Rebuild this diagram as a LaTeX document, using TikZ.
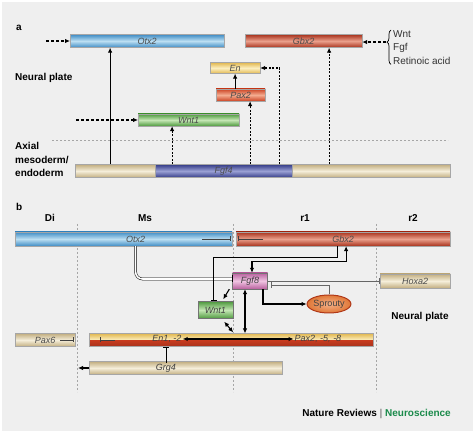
\documentclass[tikz,border=0pt]{standalone}
\usepackage{fontspec}
\setmainfont{Liberation Sans}
\usetikzlibrary{arrows.meta, positioning, shapes.geometric, decorations.pathreplacing, calc}
\definecolor{bggrey}{HTML}{EFEFEF}
\definecolor{otxdark}{HTML}{3F8CC4}
\definecolor{otxlight}{HTML}{BCDFF2}
\definecolor{gbxdark}{HTML}{A8321C}
\definecolor{gbxlight}{HTML}{EAA08C}
\definecolor{endark}{HTML}{E2B850}
\definecolor{enlight}{HTML}{FCEFC0}
\definecolor{paxdark}{HTML}{CC4424}
\definecolor{paxlight}{HTML}{F4AC90}
\definecolor{wntdark}{HTML}{4E9A3E}
\definecolor{wntlight}{HTML}{C4E6B4}
\definecolor{fgfdark}{HTML}{343C88}
\definecolor{fgflight}{HTML}{9AA0D4}
\definecolor{beigedark}{HTML}{C2AE80}
\definecolor{beigelight}{HTML}{F5EEDA}
\definecolor{pinkdark}{HTML}{B8609E}
\definecolor{pinklight}{HTML}{F0C4E2}
\definecolor{sproutydark}{HTML}{E07838}
\definecolor{sproutylight}{HTML}{F4B088}
\definecolor{sproutyedge}{HTML}{B03818}
\definecolor{redhalf}{HTML}{C43A1E}
\definecolor{natgreen}{HTML}{1A8A4A}
\tikzstyle{bar} = [rectangle, minimum height=13pt, inner sep=0pt, anchor=west, font=\small\itshape, text=black!70, draw=black!35, very thin]
\tikzstyle{otxbar} = [bar, top color=otxdark, bottom color=otxdark, middle color=otxlight]
\tikzstyle{gbxbar} = [bar, top color=gbxdark, bottom color=gbxdark, middle color=gbxlight]
\tikzstyle{enbar} = [bar, top color=endark, bottom color=endark, middle color=enlight]
\tikzstyle{paxbar} = [bar, top color=paxdark, bottom color=paxdark, middle color=paxlight]
\tikzstyle{wntbar} = [bar, top color=wntdark, bottom color=wntdark, middle color=wntlight]
\tikzstyle{fgfbar} = [bar, top color=fgfdark, bottom color=fgfdark, middle color=fgflight]
\tikzstyle{beigebar} = [bar, top color=beigedark, bottom color=beigedark, middle color=beigelight]
\tikzstyle{box} = [rectangle, minimum width=35pt, minimum height=16pt, inner sep=0pt, font=\small\itshape, text=black!75, draw=black!55]
\tikzstyle{region} = [font=\fontsize{10}{13.5}\selectfont\bfseries, inner sep=0pt]
\tikzstyle{path} = [-{Latex[length=5pt, width=4.5pt]}, line width=1.1pt]
\tikzstyle{both} = [{Latex[length=5pt, width=4.5pt]}-{Latex[length=5pt, width=4.5pt]}, line width=1.1pt]
\tikzstyle{dashpath} = [path, dash pattern=on 3pt off 2pt]
\tikzstyle{dotpath} = [path, dash pattern=on 2pt off 1.5pt]
\tikzstyle{inhibit} = [-{Bar[width=6pt]}, line width=0.9pt]
\tikzstyle{inner} = [-{Bar[width=5pt]}, line width=0.6pt, black!75]
\tikzstyle{guide} = [black!35, line width=0.8pt, dash pattern=on 2pt off 2pt]

\begin{document}
\begin{tikzpicture}[x=1pt, y=-1pt]
    \useasboundingbox (0,0) rectangle (475,433);
    \fill[white] (0,0) rectangle (475,433);
    \fill[bggrey] (2,2) rectangle (473,431);

    % Panel a: labels.
    \node (panela) [region, anchor=west] at (16,28) {a};
    \node (neurala) [region, anchor=west] at (15,78) {Neural plate};
    \node (axial) [region, anchor=west, align=left] at (15,159.5) {Axial\\mesoderm/\\endoderm};
    \draw [guide] (52,140) -- (448,140);

    % Panel a: genes.
    \node (otxA) [otxbar, minimum width=154pt] at (70,41) {Otx2};
    \node (gbxA) [gbxbar, minimum width=117pt] at (245,41) {Gbx2};
    \node (enA) [enbar, minimum width=50pt, minimum height=11pt] at (210,68) {En};
    \node (paxA) [paxbar, minimum width=49pt, minimum height=12pt] at (216,95) {Pax2};
    \node (wntA) [wntbar, minimum width=101pt, minimum height=12pt] at (138,120) {Wnt1};
    \node (mesoL) [beigebar, minimum width=80pt] at (75,171) {};
    \node (fgf4) [fgfbar, minimum width=137pt] at (155,171) {Fgf4};
    \node (mesoR) [beigebar, minimum width=158pt] at (292,171) {};
    \node (signals) [anchor=north west, align=left, inner sep=0pt, font=\fontsize{10}{13.5}\selectfont, text=black!80] at (393,30) {Wnt\\Fgf\\Retinoic acid};

    % Panel a: arrows.
    \coordinate (otxin) at ([xshift=-24pt]otxA.west);
    \coordinate (wntin) at ([xshift=-62pt]wntA.west);
    \coordinate (s1) at ([xshift=-5pt]mesoL.north);
    \coordinate (s2) at ([xshift=-51.5pt]fgf4.north);
    \coordinate (s3) at ([xshift=26.5pt]fgf4.north);
    \coordinate (s4) at ([xshift=55.5pt]fgf4.north);
    \coordinate (s5) at ([xshift=-42pt]mesoR.north);
    \coordinate (bracetip) at ($(signals.south west)!0.65!(signals.north west) + (-7pt,0)$);
    \draw [dashpath] (otxin) -- (otxA.west);
    \draw [dashpath] (wntin) -- (wntA.west);
    \draw [path] (s1) -- (s1 |- otxA.south);
    \draw [dotpath] (s2) -- (s2 |- wntA.south);
    \draw [dotpath] (s3) -- (s3 |- paxA.south);
    \draw [dotpath] (s4) |- (enA.east);
    \draw [dotpath] (s5) -- (s5 |- gbxA.south);
    \draw [path] (paxA.north -| enA.south) -- (enA.south);
    \draw [decorate, decoration={brace, amplitude=4pt, aspect=0.65}, line width=0.7pt] ([xshift=-2pt]signals.south west) -- ([xshift=-2pt]signals.north west);
    \draw [dashpath] (bracetip) -- (bracetip -| gbxA.east);

    % Panel b: labels.
    \node (panelb) [region, anchor=west] at (16,207) {b};
    \foreach \n/\x in {Di/50, Ms/145, r1/305, r2/413} {
        \node (col\n) [region] at (\x,218) {\n};
    }
    \foreach \x in {77, 233, 376} {
        \draw [guide] (\x,224) -- (\x,392);
    }
    \node (neuralb) [region] at (420,317) {Neural plate};

    % Panel b: genes.
    \node (otxB) [otxbar, minimum width=217pt, minimum height=14pt, label={[xshift=12pt, font=\small\itshape, text=black!70]center:Otx2}] at (15,239) {};
    \node (gbxB) [gbxbar, minimum width=214pt, minimum height=14pt] at (236,239) {Gbx2};
    \node (hoxa2) [beigebar, minimum width=70pt, minimum height=14pt] at (380,281) {Hoxa2};
    \node (pax6) [beigebar, minimum width=60pt] at (15,340) {Pax6};
    \node (enpax) [bar, minimum width=284pt, path picture={
        \shade [top color=endark, bottom color=endark, middle color=enlight] (path picture bounding box.north west) rectangle ([yshift=-1pt]path picture bounding box.east);
        \shade [top color=redhalf, bottom color=gbxdark] ([yshift=-1pt]path picture bounding box.west) rectangle (path picture bounding box.south east);}] at (89,340) {};
    \node (enlab) [font=\small\itshape, text=black!75, inner sep=1pt] at (167,339) {En1, -2};
    \node (paxlab) [font=\small\itshape, text=black!75, inner sep=1pt] at (318,339) {Pax2, -5, -8};
    \node (grg4) [beigebar, minimum width=193pt] at (89,368) {};
    \node (grglab) [font=\small\itshape, text=black!75, inner sep=1pt] at (166,368) {Grg4};
    \node (fgf8) [box, top color=pinkdark, bottom color=pinkdark, middle color=pinklight] at (250,281) {Fgf8};
    \node (wntB) [box, minimum height=17pt, top color=wntdark, bottom color=wntdark, middle color=wntlight] at (215.5,310) {Wnt1};
    \node (sprouty) [ellipse, minimum width=42pt, minimum height=18pt, inner sep=0pt, draw=sproutyedge, line width=1pt, inner color=sproutylight, outer color=sproutydark, font=\small, text=black!75] at (329,304) {Sprouty};

    % Panel b: self limits inside the bars.
    \draw [inner] ([xshift=-30pt]otxB.east) -- ([xshift=-1.5pt]otxB.east);
    \draw [inner] ([xshift=27pt]gbxB.west) -- ([xshift=2pt]gbxB.west);
    \draw [inner] ([xshift=-15pt]pax6.east) -- ([xshift=-2pt]pax6.east);
    \draw [inner] ([xshift=26pt]enpax.west) -- ([xshift=11pt]enpax.west);

    % Panel b: arrows.
    \coordinate (wen) at (enpax.north -| wntB.east);
    \coordinate (fdown) at ([xshift=-5pt]fgf8.south);
    \coordinate (grgend) at ([xshift=-11pt]grg4.west);
    \draw [double, double distance=1.6pt, line width=0.5pt, rounded corners=7pt, -{Bar[width=7pt]}] ([xshift=12pt]otxB.south) |- ([yshift=2pt]fgf8.west);
    \draw [inhibit] ([xshift=-6pt]gbxB.south) -- ++(0,11) -| ([xshift=-2pt]wntB.north);
    \draw [both] ([xshift=2pt]fgf8.north) -- ++(0,-11) -| ([xshift=3pt]gbxB.south);
    \draw [path] ([xshift=-3pt]fgf8.south west) -- ([xshift=-10pt, yshift=2pt]wntB.north east);
    \draw [both] ([xshift=-9pt, yshift=-3pt]wntB.south east) -- ([yshift=1pt]wen);
    \draw [both] (fdown) -- (fdown |- enpax.north);
    \draw [path] ([xshift=13pt]fgf8.south) |- (sprouty.west);
    \draw [inhibit, black!60, line width=0.7pt] (sprouty.north) |- ([xshift=3pt, yshift=-4pt]fgf8.east);
    \draw [inhibit, black!60, line width=0.7pt] (fgf8.east) -- (hoxa2.west);
    \draw [both] (enlab.east) -- (paxlab.west);
    \draw [inhibit] (grglab.north) -- (grglab.north |- enpax.south);
    \draw [path] (grg4.west) -- (grgend);

    % Credit.
    \node (credit) [anchor=east, font=\bfseries, inner sep=0pt] at (451,414) {Nature Reviews \textcolor{black!45}{|} \textcolor{natgreen}{Neuroscience}};
\end{tikzpicture}
\end{document}
